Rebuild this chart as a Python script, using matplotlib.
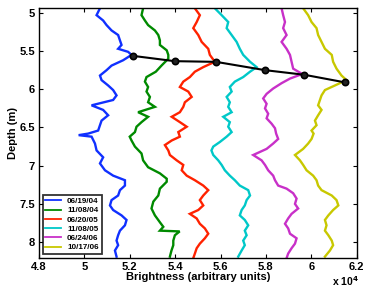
import numpy as np
import matplotlib
matplotlib.use("Agg")
import matplotlib.pyplot as plt

plt.rcParams['font.family'] = ['Liberation Sans', 'DejaVu Sans']
plt.rcParams['font.weight'] = 'bold'

# brightness in units of 1e4, depth in m
blue_d = [4.94, 5.03, 5.10, 5.16, 5.23, 5.29, 5.36, 5.42, 5.47, 5.51, 5.55, 5.62, 5.69, 5.75, 5.82,
          5.88, 5.95, 6.01, 6.08, 6.14, 6.21, 6.27, 6.34, 6.41, 6.47, 6.54, 6.58, 6.60, 6.62, 6.71,
          6.80, 6.89, 6.97, 7.06, 7.13, 7.19, 7.26, 7.32, 7.39, 7.45, 7.52, 7.58, 7.65, 7.71, 7.78,
          7.85, 7.91, 7.98, 8.04, 8.11, 8.19]
blue_b = [5.069, 5.054, 5.083, 5.098, 5.120, 5.149, 5.157, 5.164, 5.149, 5.193, 5.208, 5.171, 5.120,
          5.098, 5.069, 5.076, 5.105, 5.127, 5.142, 5.127, 5.032, 5.083, 5.105, 5.076, 5.069, 5.061,
          5.017, 4.975, 5.032, 5.047, 5.054, 5.083, 5.069, 5.091, 5.127, 5.179, 5.179, 5.157, 5.149,
          5.120, 5.113, 5.127, 5.164, 5.186, 5.179, 5.157, 5.149, 5.142, 5.149, 5.135, 5.142]

green_d = [4.94, 5.03, 5.10, 5.16, 5.23, 5.29, 5.36, 5.42, 5.49, 5.55, 5.60, 5.69, 5.77, 5.84, 5.90,
           5.97, 6.03, 6.10, 6.17, 6.23, 6.30, 6.36, 6.43, 6.49, 6.56, 6.62, 6.67, 6.75, 6.84, 6.93,
           7.02, 7.10, 7.17, 7.21, 7.30, 7.39, 7.47, 7.56, 7.65, 7.74, 7.80, 7.85, 7.86, 7.91, 7.98,
           8.04, 8.11, 8.19]
green_b = [5.259, 5.252, 5.267, 5.281, 5.311, 5.326, 5.333, 5.333, 5.363, 5.370, 5.370, 5.340, 5.315,
           5.274, 5.267, 5.281, 5.274, 5.289, 5.281, 5.311, 5.237, 5.281, 5.252, 5.230, 5.223, 5.200,
           5.208, 5.223, 5.252, 5.259, 5.281, 5.333, 5.363, 5.363, 5.333, 5.326, 5.304, 5.296, 5.311,
           5.333, 5.348, 5.333, 5.420, 5.399, 5.392, 5.392, 5.384, 5.377]

red_d = [4.94, 5.03, 5.12, 5.20, 5.29, 5.38, 5.47, 5.55, 5.64, 5.71, 5.77, 5.84, 5.90, 5.97, 6.03,
         6.10, 6.17, 6.23, 6.30, 6.36, 6.43, 6.49, 6.56, 6.62, 6.67, 6.73, 6.80, 6.86, 6.93, 6.99,
         7.06, 7.13, 7.19, 7.26, 7.32, 7.39, 7.45, 7.52, 7.58, 7.63, 7.69, 7.76, 7.82, 7.89, 7.95,
         8.02, 8.08, 8.15, 8.21]
red_b = [5.487, 5.509, 5.495, 5.480, 5.502, 5.517, 5.546, 5.553, 5.575, 5.524, 5.487, 5.465, 5.436,
         5.421, 5.458, 5.473, 5.443, 5.436, 5.421, 5.385, 5.421, 5.451, 5.414, 5.421, 5.385, 5.355,
         5.370, 5.377, 5.407, 5.436, 5.429, 5.451, 5.487, 5.524, 5.546, 5.524, 5.509, 5.524, 5.502,
         5.465, 5.495, 5.509, 5.531, 5.546, 5.531, 5.509, 5.495, 5.487, 5.480]

cyan_d = [4.94, 5.03, 5.12, 5.20, 5.29, 5.38, 5.47, 5.55, 5.64, 5.71, 5.77, 5.84, 5.90, 5.97, 6.03,
          6.10, 6.17, 6.23, 6.30, 6.36, 6.43, 6.49, 6.56, 6.62, 6.69, 6.75, 6.80, 6.86, 6.93, 6.99,
          7.06, 7.13, 7.19, 7.26, 7.32, 7.39, 7.45, 7.52, 7.58, 7.65, 7.71, 7.78, 7.85, 7.91, 7.98,
          8.04, 8.11, 8.19]
cyan_b = [5.575, 5.605, 5.634, 5.627, 5.649, 5.671, 5.685, 5.700, 5.730, 5.759, 5.730, 5.700, 5.663,
          5.641, 5.649, 5.627, 5.641, 5.634, 5.649, 5.612, 5.641, 5.634, 5.649, 5.627, 5.597, 5.568,
          5.560, 5.568, 5.590, 5.605, 5.619, 5.641, 5.663, 5.685, 5.722, 5.730, 5.715, 5.707, 5.693,
          5.685, 5.707, 5.722, 5.707, 5.715, 5.700, 5.707, 5.693, 5.678]

mag_d = [4.94, 5.03, 5.12, 5.20, 5.29, 5.38, 5.47, 5.55, 5.64, 5.73, 5.80, 5.86, 5.92, 5.99, 6.06,
         6.12, 6.19, 6.25, 6.32, 6.38, 6.45, 6.51, 6.58, 6.65, 6.71, 6.78, 6.86, 6.93, 6.99, 7.06,
         7.13, 7.19, 7.26, 7.30, 7.36, 7.43, 7.50, 7.56, 7.63, 7.69, 7.76, 7.82, 7.89, 7.95, 8.02,
         8.08, 8.15, 8.21]
mag_b = [5.869, 5.876, 5.884, 5.876, 5.891, 5.869, 5.891, 5.906, 5.913, 5.920, 5.960, 5.906, 5.869,
         5.832, 5.803, 5.788, 5.803, 5.796, 5.810, 5.803, 5.825, 5.840, 5.845, 5.854, 5.832, 5.803,
         5.744, 5.781, 5.796, 5.810, 5.832, 5.840, 5.854, 5.891, 5.920, 5.935, 5.928, 5.942, 5.913,
         5.898, 5.884, 5.898, 5.906, 5.935, 5.928, 5.913, 5.898, 5.891]

yel_d = [4.94, 5.03, 5.12, 5.20, 5.29, 5.38, 5.47, 5.55, 5.64, 5.73, 5.82, 5.88, 5.95, 6.01, 6.08,
         6.14, 6.21, 6.27, 6.34, 6.41, 6.47, 6.54, 6.58, 6.65, 6.71, 6.78, 6.86, 6.93, 6.99, 7.06,
         7.13, 7.19, 7.26, 7.32, 7.39, 7.45, 7.52, 7.58, 7.65, 7.71, 7.78, 7.85, 7.91, 7.98, 8.04,
         8.11, 8.19]
yel_b = [5.964, 5.986, 6.001, 6.023, 6.030, 6.045, 6.060, 6.090, 6.096, 6.111, 6.133, 6.155, 6.104,
         6.060, 6.045, 6.038, 6.030, 6.045, 6.030, 6.016, 6.023, 6.001, 6.010, 6.001, 5.986, 5.964,
         5.928, 5.950, 5.964, 5.979, 6.008, 6.023, 6.030, 6.045, 6.090, 6.111, 6.119, 6.096, 6.075,
         6.060, 6.067, 6.060, 6.075, 6.090, 6.096, 6.082, 6.060]

# black connecting line
peak_b = [5.215, 5.398, 5.580, 5.797, 5.969, 6.149]
peak_d = [5.563, 5.632, 5.641, 5.750, 5.810, 5.910]

labels = ['06/19/04', '11/08/04', '06/20/05', '11/08/05', '06/24/06', '10/17/06']
colors = ['#1030ff', '#008a00', '#ff2200', '#00c8c8', '#c830c8', '#c8c800']

fig = plt.figure(figsize=(3.67, 2.89), dpi=100)
ax = fig.add_axes([0.106, 0.108, 0.866, 0.866])

series = [(blue_b, blue_d), (green_b, green_d), (red_b, red_d),
          (cyan_b, cyan_d), (mag_b, mag_d), (yel_b, yel_d)]
for (b, d), c, lab in zip(series, colors, labels):
    ax.plot(b, d, color=c, lw=1.7, label=lab, solid_joinstyle='miter')

ax.plot(peak_b, peak_d, 'o-', color='k', lw=1.5, ms=4.5, mfc='#222222', mec='k', mew=1.2)

ax.set_xlim(4.8, 6.2)
ax.set_ylim(8.205, 4.93)
ax.set_xticks([4.8, 5, 5.2, 5.4, 5.6, 5.8, 6, 6.2])
ax.set_xticklabels(['4.8', '5', '5.2', '5.4', '5.6', '5.8', '6', '6.2'])
ax.set_yticks([5, 5.5, 6, 6.5, 7, 7.5, 8])
ax.set_yticklabels(['5', '5.5', '6', '6.5', '7', '7.5', '8'])
ax.tick_params(direction='in', top=True, right=True, labelsize=8, length=3, width=0.8, pad=3)
for s in ax.spines.values():
    s.set_linewidth(1.0)

ax.set_xlabel('Brightness (arbitrary units)', fontsize=8, fontweight='bold', labelpad=0)
ax.set_ylabel('Depth (m)', fontsize=8, fontweight='bold', labelpad=1)
fig.text(0.905, 0.012, r'x 10$^{\mathbf{4}}$', fontsize=7.5, fontweight='bold')

leg = ax.legend(loc='lower left', fontsize=5.8, frameon=True, fancybox=False,
                handlelength=1.9, borderpad=0.35, labelspacing=0.2, handletextpad=0.8,
                borderaxespad=0.45)
leg.get_frame().set_edgecolor('k')
leg.get_frame().set_linewidth(1.3)
for ln in leg.get_lines():
    ln.set_linewidth(1.3)

fig.savefig('out.png', dpi=100)
